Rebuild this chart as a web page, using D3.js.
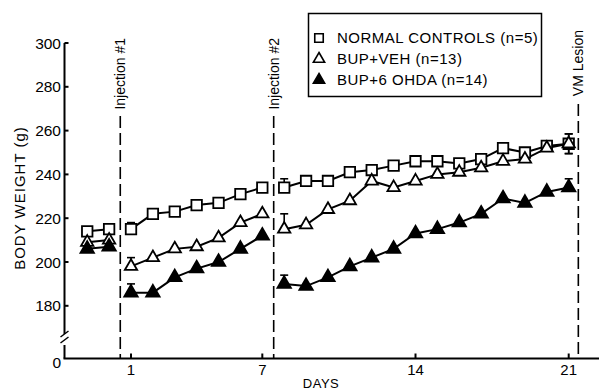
<!DOCTYPE html>
<html><head><meta charset="utf-8">
<script src="https://cdn.jsdelivr.net/npm/d3@7"></script>
<style>html,body{margin:0;padding:0;background:#fff}svg{display:block}</style>
</head><body>
<svg id="c" width="599" height="392"></svg>
<script>
// ---- data ----
const days = [-1,0,1,2,3,4,5,6,7,8,9,10,11,12,13,14,15,16,17,18,19,20,21];
const segmentBreaks = [2, 9]; // indices where a new line segment starts
const normalControls = [214,215,215,222,223,226,227,231,234,234,237,237,241,242,244,246,246,245,247,252,250,253,254];
const bupVeh        = [209,210,198,202,206,207,211,218,222,215,217,224,228,237,234,237,240,241,243,246,247,252,254];
const bupOhda       = [206,207,186,186,193,197,200,206,212,190,189,193,198,202,206,213,215,218,222,229,227,232,234];
const normalErrUp   = [0,0,3,0,0,0,0,0,0,4,0,0,0,0,0,0,0,0,0,0,0,0,4.5];
const normalErrDn   = [0,0,0,0,0,0,0,0,0,0,0,0,0,0,0,0,0,0,0,0,0,0,4.5];
const vehErrUp      = [0,0,4,0,0,0,0,0,0,7,0,0,0,0,0,0,0,0,0,0,0,0,4.5];
const vehErrDn      = [0,0,0,0,0,0,0,0,0,0,0,0,0,0,0,0,0,0,0,0,0,0,4.5];
const ohdaErrUp     = [0,0,4,0,0,0,0,0,0,4,0,0,0,0,0,0,0,0,0,0,0,0,4];
const ohdaErrDn     = [0,0,0,0,0,0,0,0,0,0,0,0,0,0,0,0,0,0,0,0,0,0,0];
const yTicks = [180,200,220,240,260,280,300];
const xTicks = [1,7,14,21];
const events = [{day:0.51,label:"Injection #1"},{day:7.52,label:"Injection #2"},{day:21.44,label:"VM Lesion"}];
const legendLabels = ["NORMAL CONTROLS (n=5)","BUP+VEH (n=13)","BUP+6 OHDA (n=14)"];

// ---- layout ----
const svg = d3.select("#c");
const FONT = "Liberation Sans, Arial, sans-serif";
const x = d3.scaleLinear().domain([1,21]).range([131,568.7]);
const y = d3.scaleLinear().domain([180,300]).range([305.8,43]);
const axisX = 64.5, baseY = 358.5;

// y axis with break
const ya = svg.append("g").attr("stroke","#000").attr("stroke-width",2).attr("fill","none");
ya.append("line").attr("x1",axisX).attr("x2",axisX).attr("y1",y(300)).attr("y2",334);
ya.append("line").attr("x1",axisX).attr("x2",axisX).attr("y1",345).attr("y2",baseY);
ya.append("path").attr("d",`M${axisX-4},${337}L${axisX+4},${331}M${axisX-4},${343}L${axisX+4},${337}`).attr("stroke-width",1.5);
yTicks.forEach(t=>{
  ya.append("line").attr("x1",axisX).attr("x2",axisX+4).attr("y1",y(t)).attr("y2",y(t));
});
svg.append("g").selectAll("text").data(yTicks).join("text")
  .attr("x",61).attr("y",d=>y(d)).attr("dy","0.36em").attr("text-anchor","end")
  .attr("font-family",FONT).attr("font-size",15.5).text(d=>d);
svg.append("text").attr("x",61).attr("y",baseY+4).attr("dy","0.36em").attr("text-anchor","end")
  .attr("font-family",FONT).attr("font-size",15.5).text("0");

// x axis
svg.append("line").attr("x1",axisX-1).attr("x2",599).attr("y1",baseY).attr("y2",baseY)
  .attr("stroke","#000").attr("stroke-width",2);
const xa = svg.append("g");
xa.selectAll("line").data(xTicks).join("line")
  .attr("x1",d=>x(d)).attr("x2",d=>x(d)).attr("y1",baseY).attr("y2",baseY-5)
  .attr("stroke","#000").attr("stroke-width",2);
xa.selectAll("text").data(xTicks).join("text")
  .attr("x",d=>x(d)).attr("y",375).attr("text-anchor","middle")
  .attr("font-family",FONT).attr("font-size",15).text(d=>d);
svg.append("text").attr("x",321).attr("y",388).attr("text-anchor","middle")
  .attr("font-family",FONT).attr("font-size",13).attr("letter-spacing",0.5).text("DAYS");

// y label
svg.append("text").attr("transform","translate(25,198) rotate(-90)").attr("text-anchor","middle")
  .attr("font-family",FONT).attr("font-size",15).attr("letter-spacing",1).text("BODY WEIGHT (g)");

// event lines
events.forEach((e,i)=>{
  const ex = x(e.day);
  const top = i===2 ? 104 : 116;
  svg.append("line").attr("x1",ex).attr("x2",ex).attr("y1",top).attr("y2",baseY)
    .attr("stroke","#000").attr("stroke-width",1.6).attr("stroke-dasharray","12,5");
  svg.append("text").attr("transform",`translate(${ex+5},${i===2?30:38}) rotate(-90)`)
    .attr("text-anchor","end").attr("font-family",FONT).attr("font-size",14).text(e.label);
});

// series
const series = [
  {vals:normalControls, up:normalErrUp, dn:normalErrDn, sym:d3.symbolSquare, size:110, fill:"#fff"},
  {vals:bupVeh, up:vehErrUp, dn:vehErrDn, sym:d3.symbolTriangle, size:66, fill:"#fff"},
  {vals:bupOhda, up:ohdaErrUp, dn:ohdaErrDn, sym:d3.symbolTriangle, size:78, fill:"#000"}
];
const line = d3.line().x(d=>x(d.d)).y(d=>y(d.v));
series.forEach(s=>{
  const pts = days.map((d,i)=>({d,v:s.vals[i],i}));
  const segs = [pts.slice(0,segmentBreaks[0]),pts.slice(segmentBreaks[0],segmentBreaks[1]),pts.slice(segmentBreaks[1])];
  segs.forEach(seg=>svg.append("path").attr("d",line(seg)).attr("fill","none").attr("stroke","#000").attr("stroke-width",2));
});
series.forEach(s=>{
  const g = svg.append("g");
  days.forEach((d,i)=>{
    const cx = x(d), cy = y(s.vals[i]);
    if (s.up[i] > 0) {
      const ty = y(s.vals[i]+s.up[i]);
      g.append("line").attr("x1",cx).attr("x2",cx).attr("y1",cy).attr("y2",ty).attr("stroke","#000").attr("stroke-width",1.6);
      g.append("line").attr("x1",cx-4).attr("x2",cx+4).attr("y1",ty).attr("y2",ty).attr("stroke","#000").attr("stroke-width",1.6);
    }
    if (s.dn[i] > 0) {
      const by = y(s.vals[i]-s.dn[i]);
      g.append("line").attr("x1",cx).attr("x2",cx).attr("y1",cy).attr("y2",by).attr("stroke","#000").attr("stroke-width",1.6);
      g.append("line").attr("x1",cx-4).attr("x2",cx+4).attr("y1",by).attr("y2",by).attr("stroke","#000").attr("stroke-width",1.6);
    }
  });
  g.selectAll("path").data(days.map((d,i)=>({d,v:s.vals[i]}))).join("path")
    .attr("transform",p=>`translate(${x(p.d)},${y(p.v)})`)
    .attr("d",d3.symbol(s.sym,s.size)())
    .attr("fill",s.fill).attr("stroke","#000").attr("stroke-width",1.8);
});

// legend
const lg = svg.append("g");
lg.append("rect").attr("x",308.5).attr("y",13.5).attr("width",233).attr("height",83)
  .attr("fill","#fff").attr("stroke","#000").attr("stroke-width",1.5);
legendLabels.forEach((t,i)=>{
  const ly = [38,59,80][i];
  const s = series[i];
  lg.append("path").attr("transform",`translate(319,${ly})`)
    .attr("d",d3.symbol(s.sym,i===0?72:55)()).attr("fill",s.fill).attr("stroke","#000").attr("stroke-width",1.6);
  lg.append("text").attr("x",337).attr("y",ly).attr("dy","0.36em")
    .attr("font-family",FONT).attr("font-size",15).attr("letter-spacing",0.5).text(t);
});
</script>
</body></html>
